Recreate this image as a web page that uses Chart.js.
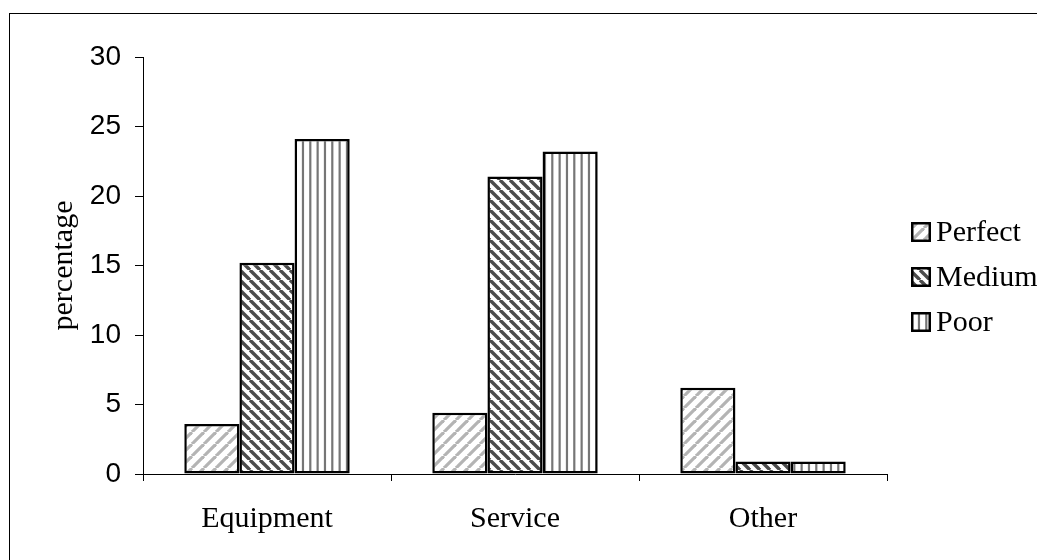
<!DOCTYPE html>
<html>
<head>
<meta charset="utf-8">
<script src="https://cdn.jsdelivr.net/npm/chart.js@4/dist/chart.umd.min.js"></script>
<style>
  html, body { margin: 0; padding: 0; background: #fff; }
  #wrap { width: 1037px; height: 560px; position: relative; }
</style>
</head>
<body>
<div id="wrap"><canvas id="c" width="1037" height="560"></canvas></div>
<script>
// Survey results by area
const categories = ['Equipment', 'Service', 'Other'];
const seriesNames = ['Perfect', 'Medium', 'Poor'];
const perfectValues = [3.6, 4.4, 6.2];
const mediumValues = [15.2, 21.4, 0.9];
const poorValues = [24.1, 23.2, 0.9];
const yTicks = [0, 5, 10, 15, 20, 25, 30];

const SERIF = '"Liberation Serif", "Times New Roman", serif';
const SANS = '"Liberation Sans", Arial, sans-serif';

// Hatch fills
function diagonalPattern(size, color, width, rising) {
  const c = document.createElement('canvas');
  c.width = size; c.height = size;
  const g = c.getContext('2d');
  g.fillStyle = '#fff';
  g.fillRect(0, 0, size, size);
  g.strokeStyle = color;
  g.lineWidth = width;
  for (let k = -1; k <= 1; k++) {
    const x0 = k * size;
    g.beginPath();
    if (rising) { g.moveTo(x0, size); g.lineTo(x0 + size, 0); }
    else { g.moveTo(x0, 0); g.lineTo(x0 + size, size); }
    g.stroke();
  }
  return g.createPattern(c, 'repeat');
}
function verticalPattern(tileW, count, color, width) {
  const c = document.createElement('canvas');
  c.width = tileW; c.height = 4;
  const g = c.getContext('2d');
  g.fillStyle = '#fff';
  g.fillRect(0, 0, tileW, 4);
  g.fillStyle = color;
  const step = tileW / count;
  for (let i = 0; i < count; i++) {
    g.fillRect(i * step + 1.2, 0, width, 4);
  }
  return g.createPattern(c, 'repeat');
}

const fills = [
  diagonalPattern(12, '#b4b4b4', 3.2, true),
  diagonalPattern(10, '#4c4c4c', 3.4, false),
  verticalPattern(22, 3, '#767676', 2.2)
];
const valueSets = [perfectValues, mediumValues, poorValues];

// Frame and legend drawn after the chart
const decorations = {
  id: 'decorations',
  afterDraw(chart) {
    const ctx = chart.ctx;
    ctx.save();
    ctx.strokeStyle = '#000';
    ctx.lineWidth = 1;
    ctx.strokeRect(9.5, 13.5, 1100, 600);

    const boxX = 911, boxSize = 20, textX = 936;
    const centers = [232, 277, 322];
    chart.data.datasets.forEach((ds, i) => {
      const cy = centers[i];
      ctx.fillStyle = ds.backgroundColor;
      ctx.fillRect(boxX, cy - boxSize / 2, boxSize, boxSize);
      ctx.lineWidth = 2.5;
      ctx.strokeStyle = '#000';
      ctx.strokeRect(boxX + 1.25, cy - boxSize / 2 + 1.25, boxSize - 2.5, boxSize - 2.5);
      ctx.fillStyle = '#000';
      ctx.font = '30px ' + SERIF;
      ctx.textBaseline = 'middle';
      ctx.textAlign = 'left';
      ctx.fillText(ds.label, textX, cy + 1);
    });
    ctx.restore();
  }
};

new Chart(document.getElementById('c'), {
  type: 'bar',
  data: {
    labels: categories,
    datasets: seriesNames.map((name, i) => ({
      label: name,
      data: valueSets[i],
      backgroundColor: fills[i],
      borderColor: '#000',
      borderWidth: 2.5,
      borderSkipped: false,
      categoryPercentage: 0.667,
      barPercentage: 1.0
    }))
  },
  options: {
    responsive: false,
    animation: false,
    layout: { padding: { top: 57, right: 150, bottom: 0, left: 0 } },
    plugins: { legend: { display: false }, tooltip: { enabled: false } },
    scales: {
      x: {
        offset: true,
        grid: { offset: true, drawOnChartArea: false, drawTicks: true, tickLength: 7, color: '#000', lineWidth: 1 },
        border: { display: true, color: '#000', width: 1 },
        ticks: { color: '#000', font: { family: SERIF, size: 30 }, padding: 20, maxRotation: 0 },
        afterFit(scale) { scale.height = 86; }
      },
      y: {
        min: 0,
        max: 30,
        afterBuildTicks(scale) { scale.ticks = yTicks.map(v => ({ value: v })); },
        grid: { drawOnChartArea: false, drawTicks: true, tickLength: 8, color: '#000', lineWidth: 1 },
        border: { display: true, color: '#000', width: 1 },
        ticks: { color: '#000', font: { family: SANS, size: 28 }, padding: 14 },
        title: { display: true, text: 'percentage', color: '#000', font: { family: SERIF, size: 30 }, padding: { top: 46, bottom: 0 } },
        afterFit(scale) { scale.width = 143; }
      }
    }
  },
  plugins: [decorations]
});
</script>
</body>
</html>
